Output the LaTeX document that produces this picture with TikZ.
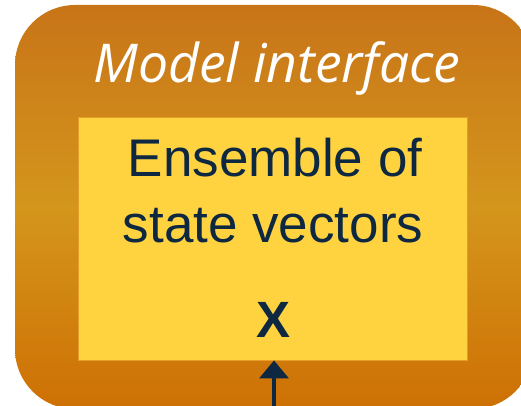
\documentclass[tikz,border=0pt]{standalone}
\usepackage{fontspec}
\setmainfont{Liberation Sans}
\newfontfamily\titlefont{Open Sans}
\usetikzlibrary{arrows.meta,positioning}

\definecolor{ifaceTop}{RGB}{200,116,24}
\definecolor{ifaceMid}{RGB}{212,150,28}
\definecolor{ifaceBot}{RGB}{206,112,4}
\definecolor{ensFill}{RGB}{255,211,64}
\definecolor{ensEdge}{RGB}{228,158,40}
\definecolor{navy}{RGB}{14,40,65}

\begin{document}
\begin{tikzpicture}[
  x=1pt, y=-1pt,
  ttl/.style={font=\titlefont\itshape\fontsize{53.5}{60}\selectfont, text=white, anchor=base, inner sep=0pt},
  ens/.style={draw=ensEdge, line width=0.8pt, fill=ensFill, minimum width=389pt, minimum height=243pt, inner sep=0pt},
  txt/.style={font=\fontsize{53}{64}\selectfont, text=navy, anchor=base, inner sep=0pt},
  feed/.style={-{Triangle[length=18pt,width=29pt]}, line width=3.4pt, draw=navy}
]
\useasboundingbox (0,0) rectangle (521,406);
\clip (0,0) rectangle (521,406);

% outer interface panel
\shade[rounded corners=60pt, top color=ifaceTop, bottom color=ifaceBot, middle color=ifaceMid]
  (15,5) rectangle (533,409);
\node[ttl] (title) at (277,83) {Model interface};

% ensemble box
\node[ens] (box) at (272.5,238.5) {};
\node[txt] (line1) at (275,176) {Ensemble of};
\node[txt] (line2) at (273,242) {state vectors};
\node[txt, font=\bfseries\fontsize{51}{64}\selectfont] (xvec) at (274,337) {X};

\coordinate (in) at (274,410);
\draw[feed] (in) -- (box.south -| in);
\end{tikzpicture}
\end{document}
